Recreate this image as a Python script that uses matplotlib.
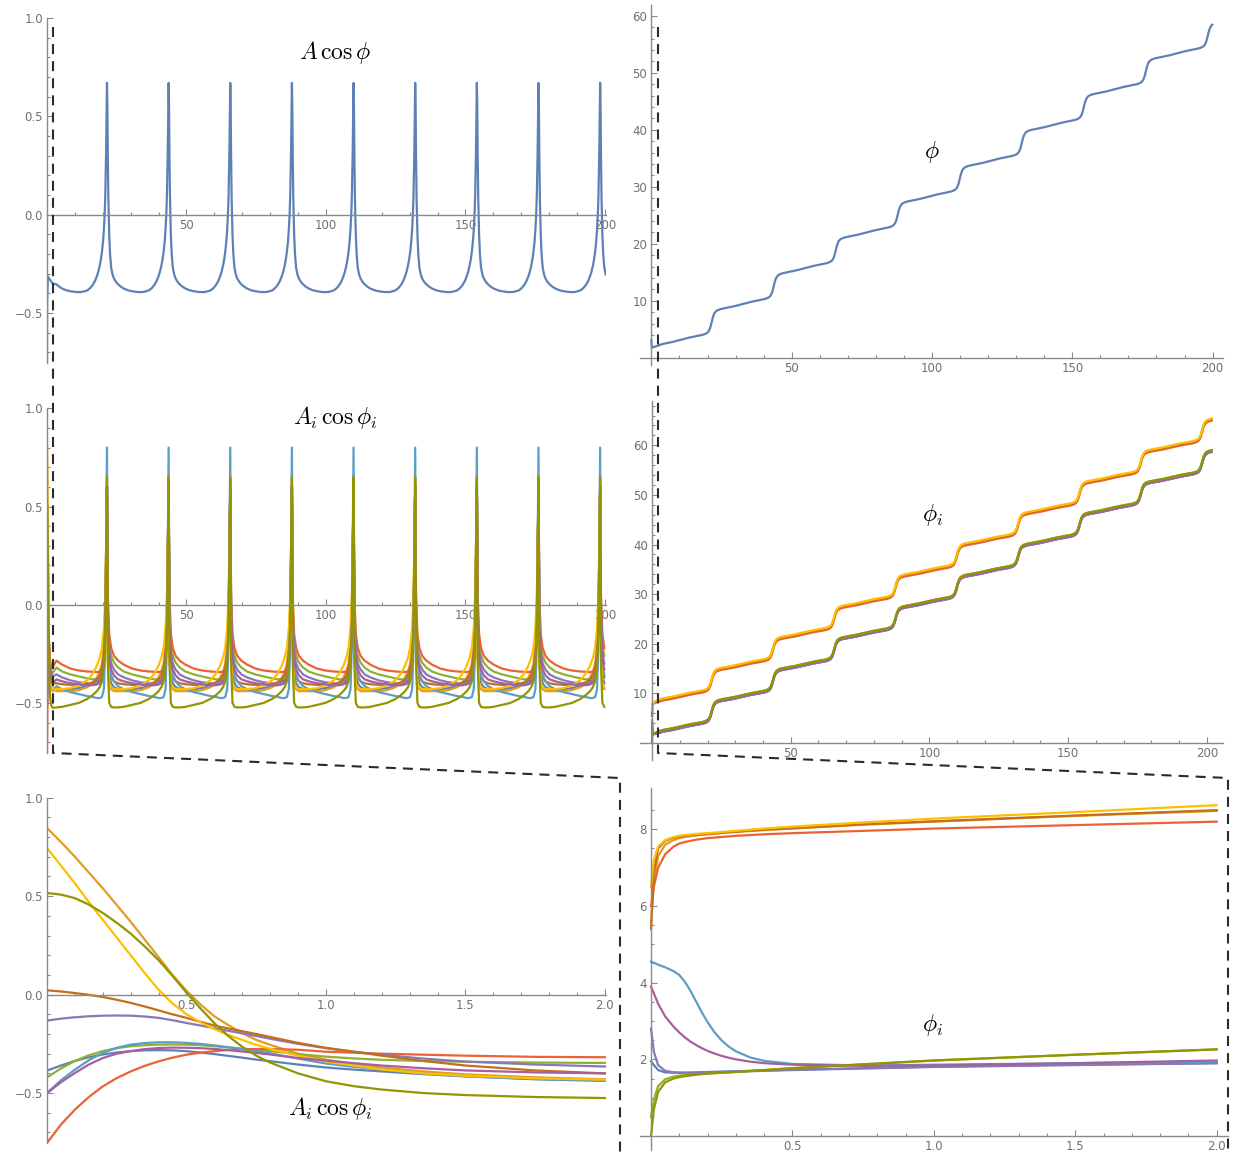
import numpy as np
import matplotlib
matplotlib.use('Agg')
import matplotlib.pyplot as plt
from matplotlib.lines import Line2D

W, H = 1248, 1152
plt.rcParams['mathtext.fontset'] = 'cm'

# Mathematica default palette, in plotting order
COLORS = ['#5E81B5', '#E19C24', '#8FB032', '#EB6235', '#8778B6',
          '#C56E1A', '#5D9EC7', '#FFBF00', '#A5609D', '#929600']
NAMES = ['blue', 'orange', 'green', 'red', 'purple',
         'brown', 'lightblue', 'yellow', 'magenta', 'olive']

# --- long runs (t = 0..200): phase slips happen at these times ---
spike_t = [21.5, 43.6, 65.7, 87.8, 109.9, 132.0, 154.1, 176.2, 198.3]
period = 22.1
slip_phase = [6.28, 12.57, 18.85, 25.13, 31.42, 37.70, 43.98, 50.27, 56.55]

# A cos(phi) over one cycle, dt counted from the previous slip
tl_dt = [0, 0.15, 0.3, 0.5, 0.8, 1.1, 1.5, 2.0, 2.5, 3.2, 4, 5, 6, 7.5, 9, 11, 13, 15, 16, 17,
         17.8, 18.5, 19.0, 19.5, 19.9, 20.3, 20.7, 21.0, 21.3, 21.5, 21.7, 21.8, 21.95, 22.1]
tl_cycle = [0.67, 0.55, 0.3, 0.08, -0.1, -0.2, -0.27, -0.305, -0.325, -0.342, -0.355, -0.367,
            -0.376, -0.385, -0.39, -0.394, -0.394, -0.386, -0.375, -0.358, -0.338, -0.313, -0.29,
            -0.26, -0.23, -0.19, -0.135, -0.075, 0.01, 0.1, 0.24, 0.33, 0.5, 0.67]
tl_init_t = [0, 0.05, 0.3, 1.0, 2.0]
tl_init_v = [-0.75, -0.45, -0.315, -0.33, -0.35]

# A_i cos(phi_i) over one cycle, one list per oscillator
cyc_dt = [0, 0.3, 0.8, 1.5, 2.5, 4, 6, 9, 12, 15, 17, 18.5, 19.5, 20.3, 21.0, 21.5, 21.8, 22.1]
ml_cycle = {
    'blue':      [0.6, -0.2, -0.36, -0.4, -0.42, -0.43, -0.43, -0.43, -0.425, -0.415, -0.4, -0.39, -0.38, -0.35, -0.27, -0.05, 0.25, 0.6],
    'orange':    [0.6, -0.25, -0.4, -0.43, -0.44, -0.44, -0.44, -0.44, -0.435, -0.42, -0.4, -0.37, -0.34, -0.3, -0.2, 0.0, 0.3, 0.6],
    'green':     [0.6, 0.0, -0.2, -0.26, -0.295, -0.32, -0.34, -0.355, -0.365, -0.375, -0.38, -0.38, -0.375, -0.36, -0.3, -0.1, 0.2, 0.6],
    'red':       [0.6, 0.05, -0.15, -0.22, -0.26, -0.285, -0.305, -0.325, -0.335, -0.34, -0.342, -0.343, -0.34, -0.33, -0.28, -0.1, 0.2, 0.6],
    'purple':    [0.6, -0.05, -0.24, -0.3, -0.33, -0.355, -0.37, -0.385, -0.395, -0.4, -0.405, -0.405, -0.4, -0.38, -0.32, -0.12, 0.2, 0.6],
    'brown':     [0.6, -0.15, -0.33, -0.37, -0.39, -0.4, -0.405, -0.408, -0.41, -0.405, -0.395, -0.38, -0.36, -0.32, -0.25, -0.05, 0.25, 0.6],
    'lightblue': [0.8, -0.1, -0.3, -0.36, -0.39, -0.415, -0.43, -0.445, -0.455, -0.465, -0.47, -0.475, -0.475, -0.47, -0.43, -0.2, 0.3, 0.8],
    'yellow':    [0.6, -0.25, -0.4, -0.42, -0.43, -0.43, -0.43, -0.425, -0.41, -0.385, -0.35, -0.31, -0.27, -0.22, -0.12, 0.05, 0.3, 0.6],
    'magenta':   [0.6, -0.1, -0.28, -0.33, -0.36, -0.38, -0.39, -0.4, -0.405, -0.41, -0.41, -0.405, -0.39, -0.37, -0.3, -0.1, 0.2, 0.6],
    'olive':     [0.65, -0.3, -0.5, -0.52, -0.523, -0.523, -0.52, -0.51, -0.5, -0.48, -0.46, -0.44, -0.42, -0.39, -0.3, -0.1, 0.2, 0.65],
}

# phase over one cycle (increment above the previous slip level)
phi_dt = [0, 0.3, 0.6, 0.9, 1.2, 1.6, 2.0, 2.6, 3.4, 4.5, 6, 8, 11.05, 14.1, 16.1,
          17.6, 18.7, 19.5, 20.1, 20.5, 20.9, 21.2, 21.5, 21.8, 22.1]
phi_inc = [0, 0.6, 1.1, 1.45, 1.7, 1.9, 2.03, 2.16, 2.28, 2.4, 2.55, 2.75, 3.14, 3.53, 3.73,
           3.88, 4.0, 4.12, 4.25, 4.38, 4.58, 4.83, 5.18, 5.68, 6.28]
tr_init_t = [0, 0.15, 0.5, 1.0, 2.0]
tr_init_v = [3.1, 1.75, 1.8, 1.9, 2.05]
# shift of each phi_i against that phase
mr_offset = {'blue': -0.15, 'orange': 6.43, 'green': 0.2, 'red': 6.15, 'purple': -0.15,
             'brown': 6.45, 'lightblue': -0.1, 'yellow': 6.58, 'magenta': -0.08, 'olive': 0.21}

# --- zoom, t = 0..2 ---
bl_t = [0, 0.05, 0.1, 0.15, 0.2, 0.25, 0.3, 0.35, 0.4, 0.45, 0.5, 0.55, 0.6, 0.65, 0.7,
        0.75, 0.8, 0.9, 1.0, 1.1, 1.2, 1.35, 1.5, 1.75, 2.0]
bl_vals = {
    'blue':      [-0.386, -0.36, -0.337, -0.318, -0.304, -0.294, -0.287, -0.283, -0.282, -0.283, -0.287, -0.294, -0.302,
                  -0.311, -0.32, -0.33, -0.338, -0.355, -0.37, -0.381, -0.39, -0.404, -0.415, -0.43, -0.438],
    'orange':    [0.846, 0.775, 0.70, 0.62, 0.54, 0.455, 0.37, 0.28, 0.19, 0.10, 0.02, -0.05, -0.11,
                  -0.155, -0.195, -0.23, -0.255, -0.3, -0.33, -0.352, -0.37, -0.39, -0.405, -0.42, -0.43],
    'green':     [-0.42, -0.375, -0.337, -0.308, -0.287, -0.272, -0.262, -0.257, -0.254, -0.253, -0.254, -0.257, -0.262,
                  -0.268, -0.274, -0.28, -0.287, -0.302, -0.315, -0.324, -0.331, -0.337, -0.341, -0.345, -0.347],
    'red':       [-0.753, -0.66, -0.584, -0.52, -0.466, -0.424, -0.39, -0.362, -0.339, -0.32, -0.305, -0.295, -0.287,
                  -0.281, -0.278, -0.276, -0.276, -0.28, -0.29, -0.295, -0.3, -0.305, -0.31, -0.316, -0.318],
    'purple':    [-0.132, -0.122, -0.115, -0.11, -0.107, -0.106, -0.107, -0.111, -0.118, -0.13, -0.144, -0.157, -0.17,
                  -0.184, -0.197, -0.21, -0.224, -0.25, -0.272, -0.29, -0.305, -0.325, -0.34, -0.355, -0.365],
    'brown':     [0.022, 0.016, 0.008, -0.001, -0.012, -0.026, -0.042, -0.06, -0.08, -0.1, -0.118, -0.138, -0.157,
                  -0.172, -0.186, -0.2, -0.215, -0.245, -0.27, -0.29, -0.31, -0.337, -0.36, -0.385, -0.40],
    'lightblue': [-0.5, -0.435, -0.381, -0.333, -0.296, -0.27, -0.254, -0.246, -0.242, -0.242, -0.245, -0.25, -0.258,
                  -0.267, -0.277, -0.287, -0.298, -0.325, -0.35, -0.367, -0.38, -0.4, -0.415, -0.428, -0.435],
    'yellow':    [0.745, 0.655, 0.565, 0.47, 0.38, 0.29, 0.2, 0.11, 0.025, -0.045, -0.1, -0.14, -0.175,
                  -0.205, -0.23, -0.255, -0.275, -0.31, -0.34, -0.36, -0.38, -0.4, -0.412, -0.425, -0.432],
    'magenta':   [-0.5, -0.445, -0.398, -0.355, -0.322, -0.3, -0.287, -0.277, -0.271, -0.269, -0.27, -0.272, -0.276,
                  -0.282, -0.289, -0.296, -0.304, -0.322, -0.335, -0.348, -0.36, -0.374, -0.385, -0.395, -0.40],
    'olive':     [0.516, 0.508, 0.49, 0.457, 0.415, 0.365, 0.31, 0.245, 0.175, 0.095, 0.01, -0.07, -0.145,
                  -0.21, -0.265, -0.31, -0.345, -0.4, -0.44, -0.465, -0.482, -0.5, -0.51, -0.52, -0.525],
}

br_t = [0, 0.01, 0.025, 0.05, 0.08, 0.1, 0.12, 0.14, 0.16, 0.18, 0.2, 0.225, 0.25, 0.275, 0.3,
        0.35, 0.4, 0.5, 0.75, 1.0, 1.5, 2.0]
br_vals = {
    'blue':      [1.95, 1.85, 1.72, 1.66, 1.65, 1.65, 1.65, 1.655, 1.66, 1.665, 1.67, 1.675, 1.68, 1.685, 1.69,
                  1.70, 1.71, 1.73, 1.77, 1.81, 1.86, 1.9],
    'orange':    [5.5, 6.6, 7.3, 7.6, 7.72, 7.77, 7.8, 7.82, 7.84, 7.855, 7.87, 7.885, 7.9, 7.915, 7.93,
                  7.955, 7.98, 8.02, 8.12, 8.2, 8.35, 8.48],
    'green':     [0.5, 0.95, 1.3, 1.48, 1.55, 1.575, 1.59, 1.60, 1.61, 1.62, 1.63, 1.64, 1.65, 1.66, 1.67,
                  1.695, 1.72, 1.77, 1.87, 1.97, 2.12, 2.26],
    'red':       [6.0, 6.5, 7.0, 7.35, 7.55, 7.63, 7.67, 7.70, 7.73, 7.75, 7.77, 7.785, 7.8, 7.815, 7.83,
                  7.85, 7.87, 7.9, 7.96, 8.02, 8.11, 8.2],
    'purple':    [2.8, 2.2, 1.85, 1.7, 1.66, 1.655, 1.65, 1.65, 1.65, 1.655, 1.66, 1.665, 1.67, 1.675, 1.68,
                  1.69, 1.70, 1.72, 1.76, 1.8, 1.85, 1.9],
    'brown':     [5.4, 6.9, 7.5, 7.7, 7.78, 7.81, 7.83, 7.845, 7.86, 7.87, 7.88, 7.895, 7.91, 7.925, 7.94,
                  7.965, 7.99, 8.03, 8.13, 8.21, 8.36, 8.5],
    'lightblue': [4.55, 4.52, 4.47, 4.4, 4.3, 4.2, 4.02, 3.78, 3.5, 3.22, 2.97, 2.7, 2.49, 2.33, 2.21,
                  2.05, 1.96, 1.88, 1.84, 1.86, 1.9, 1.94],
    'yellow':    [6.5, 7.2, 7.55, 7.72, 7.8, 7.83, 7.85, 7.865, 7.88, 7.89, 7.9, 7.915, 7.93, 7.945, 7.96,
                  7.99, 8.02, 8.07, 8.18, 8.28, 8.45, 8.63],
    'magenta':   [3.9, 3.72, 3.45, 3.12, 2.85, 2.7, 2.57, 2.46, 2.37, 2.29, 2.22, 2.15, 2.09, 2.04, 2.0,
                  1.94, 1.9, 1.86, 1.83, 1.84, 1.9, 1.97],
    'olive':     [0.0, 0.7, 1.15, 1.4, 1.5, 1.535, 1.56, 1.58, 1.6, 1.615, 1.63, 1.64, 1.65, 1.66, 1.67,
                  1.695, 1.72, 1.77, 1.87, 1.97, 2.12, 2.26],
}


def cycles(t0, v0, t_start, t_end, dts, vals, levels=None, offset=0.0):
    """start with the measured first points, then lay the cycle between slips"""
    ts, vs = list(t0), list(v0)
    starts = [spike_t[0] - period] + spike_t
    for k, s in enumerate(starts):
        lev = levels[k] if levels else 0.0
        for d, v in zip(dts, vals):
            t = s + d
            if t_start < t <= t_end and t > ts[-1] + 1e-6:
                ts.append(t)
                vs.append(lev + v + offset)
    return ts, vs


def px_axes(fig, x0, y0, x1, y1):
    ax = fig.add_axes([x0 / W, 1 - y1 / H, (x1 - x0) / W, (y1 - y0) / H])
    ax.set_facecolor('none')
    return ax


def style(ax, xmaj, xlab, xminor, ymaj, ylab, yminor):
    for s in ['top', 'right']:
        ax.spines[s].set_visible(False)
    for s in ['left', 'bottom']:
        ax.spines[s].set_position(('data', 0))
        ax.spines[s].set_color('#8a8a8a')
        ax.spines[s].set_linewidth(1.0)
    ax.set_xticks(xmaj, xlab)
    ax.set_xticks(xminor, minor=True)
    ax.set_yticks(ymaj, ylab)
    ax.set_yticks(yminor, minor=True)
    ax.tick_params(which='both', direction='in', color='#8a8a8a', width=0.8,
                   labelcolor='#707070', labelsize=8.5, pad=3)
    ax.tick_params(which='major', length=4)
    ax.tick_params(which='minor', length=2.2)


fig = plt.figure(figsize=(12.48, 11.52), dpi=100)
LW = 1.6
levels = [0.0] + slip_phase

# ---- top left: A cos phi ----
ax = px_axes(fig, 47, 18, 606, 363)
t, v = cycles(tl_init_t, tl_init_v, 3.0, 200.3, tl_dt, tl_cycle)
ax.plot(t, v, color=COLORS[0], lw=LW)
ax.set_xlim(0, 200.4)
ax.set_ylim(-0.755, 1.0)
style(ax, [50, 100, 150, 200], ['50', '100', '150', '200'], np.arange(10, 200, 10),
      [-0.5, 0, 0.5, 1.0], ['\u22120.5', '0.0', '0.5', '1.0'], np.arange(-0.7, 1.0, 0.1))

# ---- middle left: A_i cos phi_i ----
ax = px_axes(fig, 47, 408.3, 606, 753)
for c, n in zip(COLORS, NAMES):
    t, v = cycles(bl_t, bl_vals[n], 3.0, 200.3, cyc_dt, ml_cycle[n])
    ax.plot(t, v, color=c, lw=LW)
ax.set_xlim(0, 200.4)
ax.set_ylim(-0.755, 1.0)
style(ax, [50, 100, 150, 200], ['50', '100', '150', '200'], np.arange(10, 200, 10),
      [-0.5, 0, 0.5, 1.0], ['\u22120.5', '0.0', '0.5', '1.0'], np.arange(-0.7, 1.0, 0.1))

# ---- bottom left: zoom t = 0..2 ----
ax = px_axes(fig, 47, 797.7, 606, 1143.3)
for c, n in zip(COLORS, NAMES):
    ax.plot(bl_t, bl_vals[n], color=c, lw=LW)
ax.set_xlim(0, 2.004)
ax.set_ylim(-0.755, 1.0)
style(ax, [0.5, 1.0, 1.5, 2.0], ['0.5', '1.0', '1.5', '2.0'], np.arange(0.1, 2.0, 0.1),
      [-0.5, 0, 0.5, 1.0], ['\u22120.5', '0.0', '0.5', '1.0'], np.arange(-0.7, 1.0, 0.1))

# ---- top right: phi ----
ax = px_axes(fig, 640, 5, 1223, 365)
t, v = cycles(tr_init_t, tr_init_v, 3.0, 200.2, phi_dt, phi_inc, levels)
ax.plot(t, v, color=COLORS[0], lw=LW)
ax.set_xlim(-4.06, 203.7)
ax.set_ylim(-1.28, 61.9)
style(ax, [50, 100, 150, 200], ['50', '100', '150', '200'], np.arange(10, 201, 10),
      [10, 20, 30, 40, 50, 60], ['10', '20', '30', '40', '50', '60'], np.arange(2, 62, 2))

# ---- middle right: phi_i ----
ax = px_axes(fig, 640, 400.7, 1223, 760)
for c, n in zip(COLORS, NAMES):
    t, v = cycles(br_t, br_vals[n], 3.0, 202.0, phi_dt, phi_inc, levels, mr_offset[n])
    ax.plot(t, v, color=c, lw=LW)
ax.set_xlim(-4.33, 205.8)
ax.set_ylim(-3.45, 69.0)
style(ax, [50, 100, 150, 200], ['50', '100', '150', '200'], np.arange(10, 201, 10),
      [10, 20, 30, 40, 50, 60], ['10', '20', '30', '40', '50', '60'], np.arange(2, 69, 2))

# ---- bottom right: zoom t = 0..2 ----
ax = px_axes(fig, 640, 788.3, 1228, 1150)
for c, n in zip(COLORS, NAMES):
    ax.plot(br_t, br_vals[n], color=c, lw=LW)
ax.set_xlim(-0.039, 2.04)
ax.set_ylim(-0.365, 9.07)
style(ax, [0.5, 1.0, 1.5, 2.0], ['0.5', '1.0', '1.5', '2.0'], np.arange(0.1, 2.01, 0.1),
      [2, 4, 6, 8], ['2', '4', '6', '8'], np.arange(0.5, 9.0, 0.5))

# ---- panel labels ----
labels = [(335, 53, r'$A\,\cos\phi$'), (335, 417, r'$A_i\,\cos\phi_i$'),
          (330, 1108, r'$A_i\,\cos\phi_i$'), (932, 152, r'$\phi$'),
          (932, 515, r'$\phi_i$'), (932, 1025, r'$\phi_i$')]
for x, y, s in labels:
    fig.text(x / W, 1 - y / H, s, ha='center', va='center', fontsize=17, color='black')

# ---- dashed zoom connectors ----
for pts in ([(53, 27), (53, 753), (620, 778), (620, 1152)],
            [(658, 27), (658, 753), (1228, 778), (1228, 1152)]):
    xs = [p[0] / W for p in pts]
    ys = [1 - p[1] / H for p in pts]
    fig.add_artist(Line2D(xs, ys, transform=fig.transFigure, color='#2b2b2b',
                          lw=1.5, linestyle=(0, (4.8, 3.4))))

fig.savefig('out.png', dpi=100)
